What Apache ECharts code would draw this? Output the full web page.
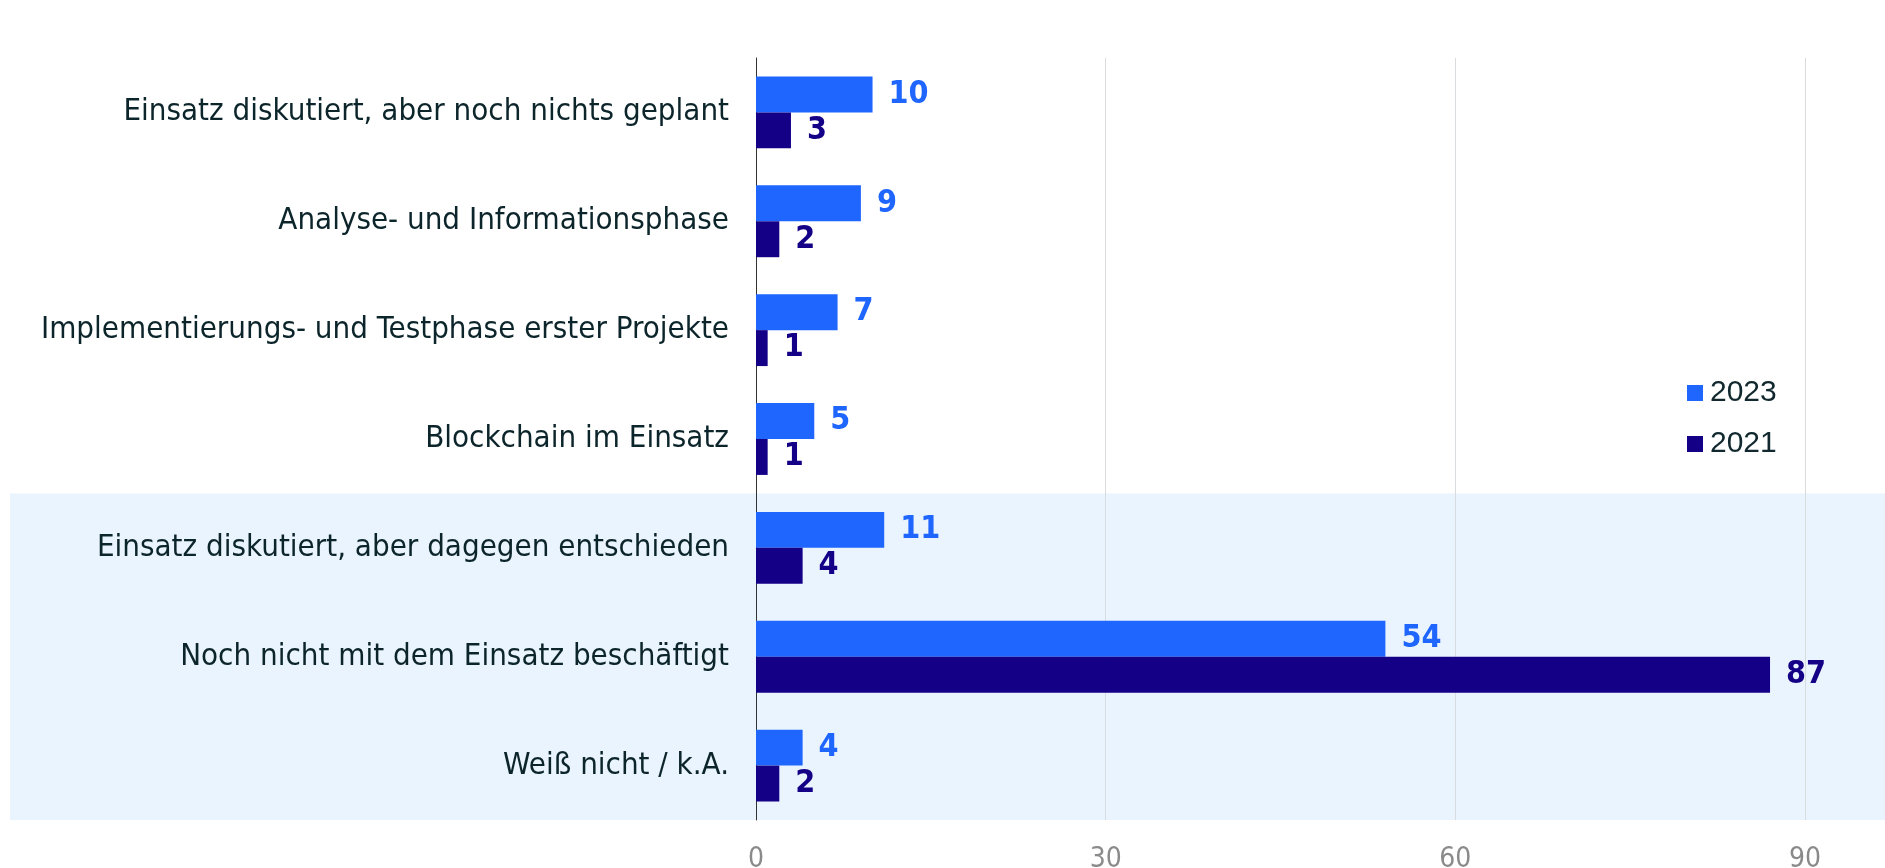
<!DOCTYPE html>
<html><head><meta charset="utf-8">
<script src="https://cdn.jsdelivr.net/npm/echarts@6/dist/echarts.min.js"></script>
<style>html,body{margin:0;padding:0;background:#fff}#c{width:1885px;height:868px}</style>
</head><body><div id="c"></div>
<script>
const categories = [
  'Einsatz diskutiert, aber noch nichts geplant',
  'Analyse- und Informationsphase',
  'Implementierungs- und Testphase erster Projekte',
  'Blockchain im Einsatz',
  'Einsatz diskutiert, aber dagegen entschieden',
  'Noch nicht mit dem Einsatz beschäftigt',
  'Weiß nicht / k.A.'
];
const values2023 = [10, 9, 7, 5, 11, 54, 4];
const values2021 = [3, 2, 1, 1, 4, 87, 2];
const seriesNames = ['2023', '2021'];
const xTicks = [0, 30, 60, 90];
const highlightFrom = 4; // index of first highlighted category

(function(){
const FONT = "'Liberation Sans Narrow','DejaVu Sans Condensed',sans-serif";
const c1 = '#1f66ff', c2 = '#140087';
const chart = echarts.init(document.getElementById('c'), null, {renderer: 'canvas'});
function lbl(color){
  return {show: true, position: 'right', distance: 16, color: color, fontFamily: FONT,
          fontWeight: 'bold', fontSize: 32};
}
chart.setOption({
  animation: false,
  grid: {left: 756, right: 80, top: 58, bottom: 48, containLabel: false, outerBoundsMode: 'none'},
  legend: {
    orient: 'vertical', left: 1682, top: 373, itemWidth: 16, itemHeight: 16, itemGap: 21,
    icon: 'rect', data: seriesNames,
    textStyle: {fontFamily: "'Liberation Sans',sans-serif", fontSize: 30, color: '#10282e', padding: [0,0,0,2]}
  },
  xAxis: {
    type: 'value', min: xTicks[0], max: xTicks[xTicks.length-1], interval: xTicks[1]-xTicks[0],
    axisLine: {show: false}, axisTick: {show: false},
    splitLine: {show: true, lineStyle: {color: '#d9dcdf', width: 1}},
    axisLabel: {fontFamily: FONT, fontSize: 28, color: '#8a8a8a', margin: 26}
  },
  yAxis: {
    type: 'category', data: categories, inverse: true,
    axisLine: {show: true, lineStyle: {color: '#333', width: 1}}, axisTick: {show: false},
    axisLabel: {fontFamily: FONT, fontSize: 31, color: '#0c252b', margin: 27}
  },
  series: [
    {name: seriesNames[0], type: 'bar', data: values2023, itemStyle: {color: c1},
     barGap: '0%', barCategoryGap: '34%', label: lbl(c1)},
    {name: seriesNames[1], type: 'bar', data: values2021, itemStyle: {color: c2},
     barGap: '0%', barCategoryGap: '34%', label: lbl(c2)}
  ]
});
const yA = chart.convertToPixel({yAxisIndex: 0}, categories[highlightFrom - 1]);
const yB = chart.convertToPixel({yAxisIndex: 0}, categories[highlightFrom]);
const yL = chart.convertToPixel({yAxisIndex: 0}, categories[categories.length - 1]);
const step = yB - yA;
const bandTop = (yA + yB) / 2, bandBottom = yL + step / 2;
chart.setOption({graphic: [{type: 'rect', z: -10, silent: true,
  shape: {x: 10, y: bandTop, width: 1885 - 10, height: bandBottom - bandTop},
  style: {fill: '#eaf4fe'}}]});
})();
</script></body></html>
